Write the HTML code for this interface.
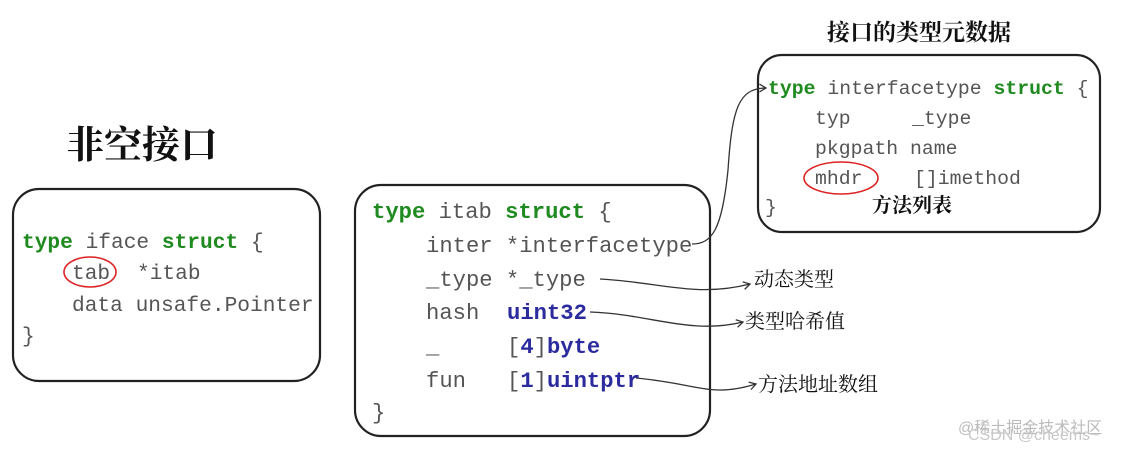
<!DOCTYPE html>
<html><head><meta charset="utf-8"><style>
html,body{margin:0;padding:0;background:#fff;}
svg{display:block;}
.m{font-family:"Liberation Mono",monospace;fill:#555;}
.k{font-weight:bold;fill:#1f8a1f;}
.b{font-weight:bold;fill:#2b2b9e;}
.c{font-family:"Liberation Serif","Noto Serif CJK SC",serif;fill:#111;}
</style></head><body>
<svg width="1134" height="453" viewBox="0 0 1134 453" xmlns="http://www.w3.org/2000/svg">
<defs><marker id="a" markerWidth="8" markerHeight="8" refX="6" refY="4" orient="auto"><path d="M1,1 L6,4 L1,7" fill="none" stroke="#333" stroke-width="1"/></marker></defs>
<text class="c" x="66" y="158" font-size="38" font-weight="bold">非空接口</text>
<rect x="13" y="189" width="307" height="192" rx="26" fill="none" stroke="#222" stroke-width="2.2"/>
<g class="m" font-size="21.2">
<text x="22" y="248"><tspan class="k">type</tspan> iface <tspan class="k">struct</tspan> {</text>
<text x="72" y="279">tab</text><text x="137" y="279">*itab</text>
<text x="72" y="311">data unsafe.Pointer</text>
<text x="22" y="342">}</text>
</g>
<ellipse cx="90" cy="272" rx="26" ry="15" fill="none" stroke="#d22" stroke-width="1.6"/>

<rect x="355" y="185" width="355" height="251" rx="26" fill="none" stroke="#222" stroke-width="2.2"/>
<g class="m" font-size="22.2">
<text x="372" y="218"><tspan class="k">type</tspan> itab <tspan class="k">struct</tspan> {</text>
<text x="426" y="252">inter *interfacetype</text>
<text x="426" y="286">_type *_type</text>
<text x="426" y="319">hash</text><text x="507" y="319" class="b">uint32</text>
<text x="426" y="353">_</text><text x="507" y="353">[<tspan class="b">4</tspan>]<tspan class="b">byte</tspan></text>
<text x="426" y="387">fun</text><text x="507" y="387">[<tspan class="b">1</tspan>]<tspan class="b">uintptr</tspan></text>
<text x="372" y="419">}</text>
</g>

<text class="c" x="827" y="40" font-size="23" font-weight="bold">接口的类型元数据</text>
<rect x="758" y="55" width="342" height="177" rx="24" fill="none" stroke="#222" stroke-width="2.2"/>
<g class="m" font-size="19.8">
<text x="768" y="94"><tspan class="k">type</tspan> interfacetype <tspan class="k">struct</tspan> {</text>
<text x="815" y="124">typ</text><text x="912" y="124">_type</text>
<text x="815" y="154">pkgpath name</text>
<text x="815" y="184">mhdr</text><text x="914" y="184">[]imethod</text>
<text x="765" y="213">}</text>
</g>
<ellipse cx="841" cy="178" rx="37" ry="16" fill="none" stroke="#d22" stroke-width="1.6"/>
<text class="c" x="872" y="212" font-size="20" font-weight="bold">方法列表</text>

<g fill="none" stroke="#333" stroke-width="1.3" marker-end="url(#a)">
<path d="M692 244 C712 244 722 230 728 170 C732 110 738 88 766 88"/>
<path d="M600 279 C660 282 695 298 750 284"/>
<path d="M590 312 C650 314 690 335 743 322"/>
<path d="M636 378 C700 384 710 398 756 384"/>
</g>
<text class="c" x="754" y="286" font-size="20">动态类型</text>
<text class="c" x="745" y="328" font-size="20">类型哈希值</text>
<text class="c" x="758" y="391" font-size="20">方法地址数组</text>

<text x="958" y="433" font-family="Liberation Sans,'Noto Sans CJK SC',sans-serif" font-size="16" fill="#bbb">@稀土掘金技术社区</text>
<text x="968" y="440" font-family="Liberation Sans,sans-serif" font-size="16" fill="#c8c8c8">CSDN @cheems~</text>
</svg>
</body></html>
